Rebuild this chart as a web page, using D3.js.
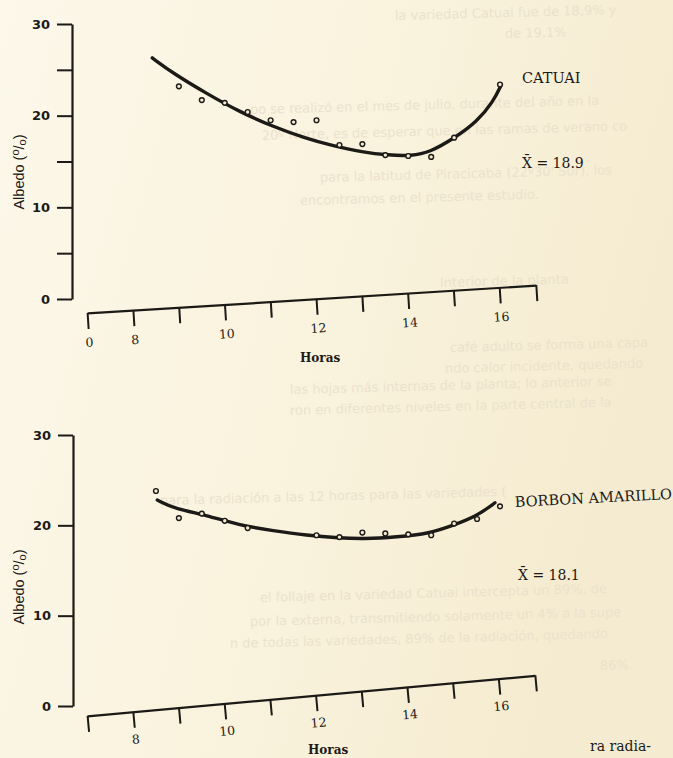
<!DOCTYPE html>
<html>
<head>
<meta charset="utf-8">
<script src="https://cdn.jsdelivr.net/npm/d3@7"></script>
<style>
  body { margin: 0; background: #f8f0da; }
  svg { display: block; }
</style>
</head>
<body>
<div id="chart"></div>
<script>
// values (hours, albedo %)
var catuaiHours = [9, 9.5, 10, 10.5, 11, 11.5, 12, 12.5, 13, 13.5, 14, 14.5, 15, 16];
var catuaiAlbedo = [23.2, 21.7, 21.4, 20.4, 19.5, 19.3, 19.5, 16.8, 16.9, 15.7, 15.6, 15.5, 17.6, 23.4];
var catuaiCurveHours = [8.42, 8.88, 9.61, 10.33, 11.06, 11.78, 12.29, 13.02, 13.56, 14.07, 14.47, 15.02, 15.49, 15.85, 16.03];
var catuaiCurve = [26.3, 24.6, 22.4, 20.4, 18.8, 17.5, 16.8, 16.0, 15.7, 15.6, 16.0, 17.6, 19.3, 21.5, 23.4];

var borbonHours = [8.5, 9, 9.5, 10, 10.5, 12, 12.5, 13, 13.5, 14, 14.5, 15, 15.5, 16];
var borbonAlbedo = [23.8, 20.8, 21.3, 20.5, 19.7, 18.9, 18.7, 19.2, 19.1, 19.0, 18.9, 20.2, 20.7, 22.1];
var borbonCurveHours = [8.53, 8.88, 9.61, 10.33, 11.06, 11.78, 12.51, 13.02, 13.75, 14.47, 14.98, 15.49, 15.89];
var borbonCurve = [22.8, 21.9, 21.1, 20.0, 19.4, 18.9, 18.6, 18.5, 18.7, 19.1, 20.0, 21.0, 22.5];

// x axis is broken: first tick stands for 0, last one is just the end of the axis
var hourTicks = [7, 8, 9, 10, 11, 12, 13, 14, 15, 16, 16.8];
var hourLabelsTop = ["0", "8", "", "10", "", "12", "", "14", "", "16", ""];
var hourLabelsBottom = ["", "8", "", "10", "", "12", "", "14", "", "16", ""];
var albedoTicksTop = [0, 5, 10, 15, 20, 25, 30];
var albedoTicksBottom = [0, 10, 20, 30];

var meanCatuai = "18.9";
var meanBorbon = "18.1";

// faint print showing through from the other side of the page
var showThrough = [
  ["la variedad Catuai fue de 18,9% y", 395, 20],
  ["de 19,1%", 505, 38],
  ["po se realizó en el mes de julio, durante del año en la", 250, 114],
  ["20º Norte, es de esperar que en las ramas de verano co", 262, 140],
  ["para la latitud de Piracicaba (22º30' Sur), los", 320, 182],
  ["encontramos en el presente estudio.", 300, 205],
  ["Interior de la planta", 440, 287],
  ["café adulto se forma una capa", 450, 352],
  ["ndo calor incidente, quedando", 445, 373],
  ["las hojas más internas de la planta; lo anterior se", 290, 394],
  ["ron en diferentes niveles en la parte central de la", 290, 415],
  ["para la radiación a las 12 horas para las variedades (", 160, 505],
  ["el follaje en la variedad Catuai intercepta un 89%, de", 260, 602],
  ["por la externa, transmitiendo solamente un 4% a la supe", 250, 626],
  ["n de todas las variedades, 89% de la radiación, quedando", 230, 648],
  ["86%.", 600, 670]
];

var W = 673, H = 758;
var ink = "#1b1a17";

var svg = d3.select("#chart").append("svg")
  .attr("width", W)
  .attr("height", H);

var defs = svg.append("defs");
var grad = defs.append("linearGradient").attr("id", "paper")
  .attr("x1", "0").attr("y1", "0").attr("x2", "1").attr("y2", "0.3");
grad.append("stop").attr("offset", "0").attr("stop-color", "#fcf8ea");
grad.append("stop").attr("offset", "0.6").attr("stop-color", "#f9f2dc");
grad.append("stop").attr("offset", "1").attr("stop-color", "#f5ebd0");

svg.append("rect").attr("width", W).attr("height", H).attr("fill", "url(#paper)");

// show-through text
svg.append("g")
  .attr("font-family", "DejaVu Sans")
  .attr("font-size", 13)
  .attr("fill", "#ebe2cc")
  .selectAll("text")
  .data(showThrough)
  .enter()
  .append("text")
  .attr("x", function (d) { return d[1]; })
  .attr("y", function (d) { return d[2]; })
  .attr("transform", function (d) { return "rotate(-1.5 " + d[1] + " " + d[2] + ")"; })
  .text(function (d) { return d[0]; });

// shared hour scale (same spacing for both panels)
var x = d3.scaleLinear().domain([8, 16]).range([133, 500]);
var xAxisScale = x.copy().domain([7, 16.8]).range([x(7), x(16.8)]);

function drawPanel(opt) {
  var y = d3.scaleLinear().domain([0, 30]).range([opt.y0, opt.y30]);
  var g = svg.append("g");

  // y axis
  var yAxis = g.append("g")
    .attr("transform", "translate(" + opt.yAxisX + ",0)")
    .call(d3.axisLeft(y)
      .tickValues(opt.yTicks)
      .tickSize(15)
      .tickSizeOuter(0)
      .tickPadding(7)
      .tickFormat(function (d) { return d % 10 === 0 ? d : ""; }));
  yAxis.select(".domain").attr("stroke", ink).attr("stroke-width", 2.2);
  yAxis.selectAll(".tick line").attr("stroke", ink).attr("stroke-width", 2);
  yAxis.selectAll(".tick text")
    .attr("fill", ink)
    .attr("font-family", "DejaVu Sans")
    .attr("font-weight", "bold")
    .attr("font-size", 13);

  // y label
  var yl = g.append("text")
    .attr("transform", "translate(24," + opt.yLabelY + ") rotate(-90)")
    .attr("text-anchor", "middle")
    .attr("font-family", "Liberation Sans")
    .attr("font-size", 14.5)
    .attr("fill", ink);
  yl.append("tspan").text("Albedo (");
  yl.append("tspan").attr("dy", -5).attr("font-size", 11).text("o");
  yl.append("tspan").attr("dy", 5).text("/");
  yl.append("tspan").attr("dy", 2).attr("font-size", 11).text("o");
  yl.append("tspan").attr("dy", -2).text(")");

  // tilted x axis, as pasted on the original page
  var xa = g.append("g")
    .attr("transform", "rotate(" + opt.xTilt + " " + x(7) + " " + opt.xAxisY + ") translate(0," + opt.xAxisY + ")")
    .call(d3.axisBottom(xAxisScale)
      .tickValues(hourTicks)
      .tickSize(16)
      .tickSizeOuter(0)
      .tickPadding(opt.xPad)
      .tickFormat(function (d, i) { return opt.xLabels[i]; }));
  xa.select(".domain").attr("stroke", ink).attr("stroke-width", 2.2);
  xa.selectAll(".tick line").attr("stroke", ink).attr("stroke-width", 2);
  xa.selectAll(".tick text")
    .attr("fill", ink)
    .attr("font-family", "DejaVu Serif")
    .attr("font-size", 12.5);

  g.append("text")
    .attr("x", opt.horasX)
    .attr("y", opt.horasY)
    .attr("fill", ink)
    .attr("font-family", "DejaVu Serif")
    .attr("font-weight", "bold")
    .attr("font-size", 12)
    .text("Horas");

  // fitted curve
  var curvePts = opt.curveHours.map(function (h, i) { return [h, opt.curve[i]]; });
  g.append("path")
    .datum(curvePts)
    .attr("fill", "none")
    .attr("stroke", ink)
    .attr("stroke-width", 3.4)
    .attr("stroke-linecap", "round")
    .attr("d", d3.line()
      .x(function (d) { return x(d[0]); })
      .y(function (d) { return y(d[1]); })
      .curve(d3.curveBasis));

  // observed points
  var pts = opt.hours.map(function (h, i) { return [h, opt.values[i]]; });
  g.selectAll(".pt")
    .data(pts)
    .enter()
    .append("circle")
    .attr("class", "pt")
    .attr("cx", function (d) { return x(d[0]); })
    .attr("cy", function (d) { return y(d[1]); })
    .attr("r", 2.4)
    .attr("fill", "#f3ead2")
    .attr("stroke", ink)
    .attr("stroke-width", 1.4);

  // series name and mean
  g.append("text")
    .attr("transform", "translate(" + opt.nameX + "," + opt.nameY + ") rotate(" + opt.nameTilt + ")")
    .attr("font-family", "DejaVu Serif")
    .attr("font-size", 14.5)
    .attr("fill", ink)
    .text(opt.name);
  g.append("text")
    .attr("x", opt.meanX)
    .attr("y", opt.meanY)
    .attr("font-family", "DejaVu Serif")
    .attr("font-size", 14)
    .attr("fill", ink)
    .text("X\u0304 = " + opt.mean);
}

drawPanel({
  y0: 299, y30: 24, yAxisX: 72, yTicks: albedoTicksTop, yLabelY: 172,
  xAxisY: 313, xTilt: -3.55, xPad: 9, xLabels: hourLabelsTop,
  horasX: 300, horasY: 362,
  hours: catuaiHours, values: catuaiAlbedo,
  curveHours: catuaiCurveHours, curve: catuaiCurve,
  name: "CATUAI", nameX: 522, nameY: 83, nameTilt: 0,
  mean: meanCatuai, meanX: 522, meanY: 168
});

drawPanel({
  y0: 706, y30: 435, yAxisX: 73, yTicks: albedoTicksBottom, yLabelY: 587,
  xAxisY: 716, xTilt: -5.18, xPad: 7, xLabels: hourLabelsBottom,
  horasX: 308, horasY: 754,
  hours: borbonHours, values: borbonAlbedo,
  curveHours: borbonCurveHours, curve: borbonCurve,
  name: "BORBON AMARILLO", nameX: 515, nameY: 507, nameTilt: -3,
  mean: meanBorbon, meanX: 518, meanY: 580
});

// start of the next line of the book text, at the page edge
svg.append("text")
  .attr("x", 590)
  .attr("y", 751)
  .attr("font-family", "DejaVu Serif")
  .attr("font-size", 14)
  .attr("fill", ink)
  .text("ra radia-");
</script>
</body>
</html>
